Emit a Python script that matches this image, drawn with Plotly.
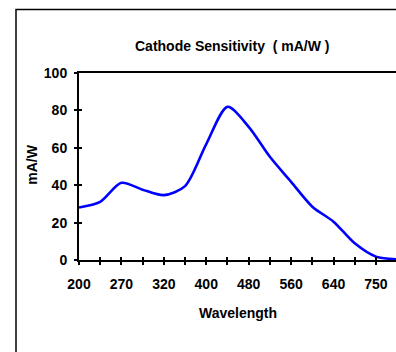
import plotly.graph_objects as go

wavelength_labels = ["200", "", "270", "", "320", "", "400", "", "480", "", "560", "", "640", "", "750", ""]
sensitivity = [28.1, 31.1, 41.3, 37.6, 34.7, 39.5, 62.0, 81.9, 71.2, 55.2, 41.8, 28.5, 20.5, 8.9, 1.8, 0.4]
y_ticks = [0, 20, 40, 60, 80, 100]

idx = list(range(len(sensitivity)))
FONT = "Liberation Sans, Arial, sans-serif"
FS = 14

fig = go.Figure()
fig.add_trace(go.Scatter(x=idx, y=sensitivity, mode="lines",
                         line=dict(color="#0000FF", width=2.6, shape="spline", smoothing=0.8),
                         hoverinfo="skip", showlegend=False))
fig.add_trace(go.Scatter(x=[0], y=[0], xaxis="x2", yaxis="y2", mode="markers",
                         marker=dict(opacity=0), hoverinfo="skip", showlegend=False))

L, R, T, B = 79, 0, 72.7, 91.7
W, H = 396, 352
pw = W - L - R
ph = H - T - B
xmax = 317 / 21.21

axis_common = dict(showgrid=False, zeroline=False)
fig.update_layout(
    width=W, height=H,
    margin=dict(l=L, r=R, t=T, b=B),
    paper_bgcolor="white", plot_bgcolor="white",
    font=dict(family=FONT, size=FS, color="black"),
    xaxis=dict(range=[0, xmax], tickmode="array", tickvals=idx, ticktext=wavelength_labels,
               ticks="outside", ticklen=3, tickwidth=1.5, tickcolor="black",
               showline=True, linecolor="black", linewidth=2, mirror=True,
               ticklabelstandoff=7,
               tickfont=dict(family=FONT, size=FS, color="black", weight="bold"),
               **axis_common),
    yaxis=dict(range=[0, 100], tickmode="array", tickvals=y_ticks,
               ticks="outside", ticklen=3, tickwidth=1.5, tickcolor="black",
               showline=True, linecolor="black", linewidth=2,
               ticklabelstandoff=4,
               tickfont=dict(family=FONT, size=FS, color="black", weight="bold"),
               **axis_common),
    xaxis2=dict(overlaying="x", matches="x", range=[0, xmax], tickmode="array", tickvals=idx,
                ticks="inside", ticklen=3, tickwidth=1.5, tickcolor="black",
                showticklabels=False, showline=False, anchor="y2", side="bottom", **axis_common),
    yaxis2=dict(overlaying="y", matches="y", range=[0, 100], tickmode="array", tickvals=y_ticks,
                ticks="inside", ticklen=3, tickwidth=1.5, tickcolor="black",
                showticklabels=False, showline=False, anchor="x2", side="left", **axis_common),
)

def px_x(p):
    return (p - L) / pw

def px_y(p):
    return (H - B - p) / ph

fig.add_annotation(text="<b>Cathode Sensitivity  ( mA/W )</b>", xref="paper", yref="paper",
                   x=px_x(231.5), y=px_y(46), showarrow=False,
                   font=dict(family=FONT, size=FS, color="black"), xanchor="center", yanchor="middle")
fig.add_annotation(text="<b>Wavelength</b>", xref="paper", yref="paper",
                   x=px_x(238), y=px_y(313), showarrow=False,
                   font=dict(family=FONT, size=FS, color="black"), xanchor="center", yanchor="middle")
fig.add_annotation(text="<b>mA/W</b>", xref="paper", yref="paper", textangle=-90,
                   x=px_x(31.7), y=px_y(165), showarrow=False,
                   font=dict(family=FONT, size=FS, color="black"), xanchor="center", yanchor="middle")

fig.add_shape(type="rect", xref="paper", yref="paper",
              x0=px_x(16), x1=px_x(420), y0=px_y(380), y1=px_y(9),
              line=dict(color="black", width=1.5), fillcolor="rgba(0,0,0,0)", layer="above")

fig.write_html("out.html", config={"displayModeBar": False},
               post_script="document.body.style.margin='0';document.body.style.overflow='hidden';")
